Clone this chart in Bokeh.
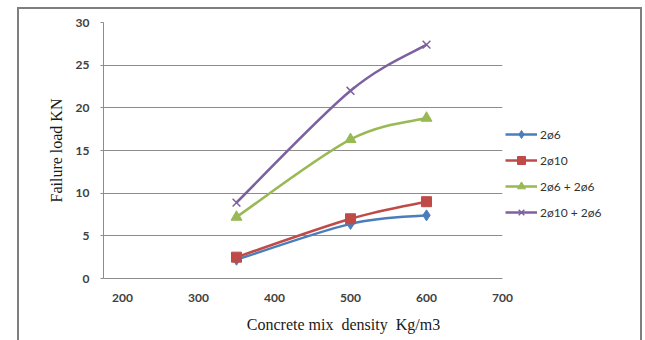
from bokeh.plotting import figure
from bokeh.models import (Range1d, FixedTicker, Legend, LegendItem, ColumnDataSource,
                          InlineStyleSheet, Label)
from bokeh.embed import file_html
from bokeh.resources import INLINE

# ---- data ----
density = [350, 500, 600]
s_2o6 = [2.2, 6.4, 7.4]
s_2o10 = [2.5, 7.0, 9.0]
s_2o6_2o6 = [7.2, 16.3, 18.8]
s_2o10_2o6 = [8.9, 22.0, 27.4]
labels = ["2ø6", "2ø10", "2ø6 + 2ø6", "2ø10 + 2ø6"]
x_ticks = [200, 300, 400, 500, 600, 700]
y_ticks = [0, 5, 10, 15, 20, 25, 30]
x_title = "Concrete mix\u00a0 density\u00a0 Kg/m3"
y_title = "Failure load KN"

colors = ["#4A7EBB", "#BE4B48", "#98B954", "#7D60A0"]
markers = ["diamond", "square", "triangle", "x"]
msizes = [11, 10, 11, 11]

p = figure(width=645, height=340, output_backend="svg", toolbar_location=None,
           x_range=Range1d(175, 700), y_range=Range1d(0, 30),
           frame_width=399, frame_height=256,
           min_border_left=103, min_border_right=143, min_border_top=22, min_border_bottom=62)
p.outline_line_color = None
p.background_fill_color = "white"
p.border_fill_color = "white"

p.xgrid.grid_line_color = None
p.ygrid.grid_line_color = "#8c8c8c"
p.ygrid.grid_line_width = 1

p.xaxis.ticker = FixedTicker(ticks=x_ticks)
p.yaxis.ticker = FixedTicker(ticks=y_ticks)
for ax in (p.xaxis[0], p.yaxis[0]):
    ax.major_label_text_font = "Lato"
    ax.major_label_text_font_style = "bold"
    ax.major_label_text_font_size = "12px"
    ax.major_label_text_color = "#404040"
    ax.minor_tick_line_color = None
    ax.axis_label_text_font = "Liberation Serif"
    ax.axis_label_text_font_style = "normal"
    ax.axis_label_text_font_size = "16px"
    ax.axis_label_text_color = "#1a1a1a"
    ax.axis_line_color = "#8c8c8c"
    ax.major_tick_line_color = "#8c8c8c"

p.yaxis.axis_label = y_title
p.xaxis.major_tick_out = 0
p.xaxis.major_tick_in = 0
p.xaxis.major_label_standoff = 15
p.yaxis.major_tick_out = 3
p.yaxis.major_tick_in = 0
p.yaxis.major_label_standoff = 11
p.yaxis.axis_label_standoff = 8

# x-axis title (offset to the right as in the original), placed in the lower panel
p.add_layout(Label(x=240, y=-3, x_units="screen", y_units="screen", text=x_title,
                   text_align="center", text_baseline="middle",
                   text_font="Liberation Serif", text_font_size="16px",
                   text_color="#1a1a1a"), "below")


def smooth_controls(xs, ys):
    n = len(xs)
    out = dict(x0=[], y0=[], x1=[], y1=[], cx0=[], cy0=[], cx1=[], cy1=[])
    for i in range(n - 1):
        a = i - 1 if i > 0 else i
        d = i + 2 if i + 2 < n else i + 1
        out["x0"].append(xs[i]); out["y0"].append(ys[i])
        out["x1"].append(xs[i + 1]); out["y1"].append(ys[i + 1])
        out["cx0"].append(xs[i] + (xs[i + 1] - xs[a]) / 6.0)
        out["cy0"].append(ys[i] + (ys[i + 1] - ys[a]) / 6.0)
        out["cx1"].append(xs[i + 1] - (xs[d] - xs[i]) / 6.0)
        out["cy1"].append(ys[i + 1] - (ys[d] - ys[i]) / 6.0)
    return out


nan = float("nan")
items = []
for ys, lab, c, m, ms in zip([s_2o6, s_2o10, s_2o6_2o6, s_2o10_2o6], labels, colors, markers, msizes):
    src = ColumnDataSource(smooth_controls(density, ys))
    p.bezier(x0="x0", y0="y0", x1="x1", y1="y1", cx0="cx0", cy0="cy0", cx1="cx1", cy1="cy1",
             source=src, line_color=c, line_width=2.5)
    # legend-only line (draws nothing in the plot)
    lr = p.line(x=[nan, nan], y=[nan, nan], line_color=c, line_width=2.5)
    if m == "x":
        sr = p.scatter(density, ys, marker=m, size=ms, line_color=c, line_width=1.5)
    else:
        sr = p.scatter(density, ys, marker=m, size=ms, fill_color=c, line_color=c)
    items.append(LegendItem(label=lab, renderers=[lr, sr]))

legend = Legend(items=items, location=(3, 56), orientation="vertical",
                glyph_width=32, glyph_height=20, label_height=20, spacing=6,
                label_standoff=3, padding=0, margin=0,
                border_line_color=None, background_fill_alpha=0,
                label_text_font="Lato", label_text_font_size="12px",
                label_text_color="#333333")
p.add_layout(legend, "right")

# outer chart border
p.stylesheets = [InlineStyleSheet(css="""
:host { position: relative; }
:host::after { content: ""; position: absolute; left: 17px; top: 7px;
  width: 625px; height: 345px; border: 2px solid #7f7f7f;
  box-sizing: border-box; pointer-events: none; }
""")]

open("out.html", "w").write(file_html(p, INLINE))
